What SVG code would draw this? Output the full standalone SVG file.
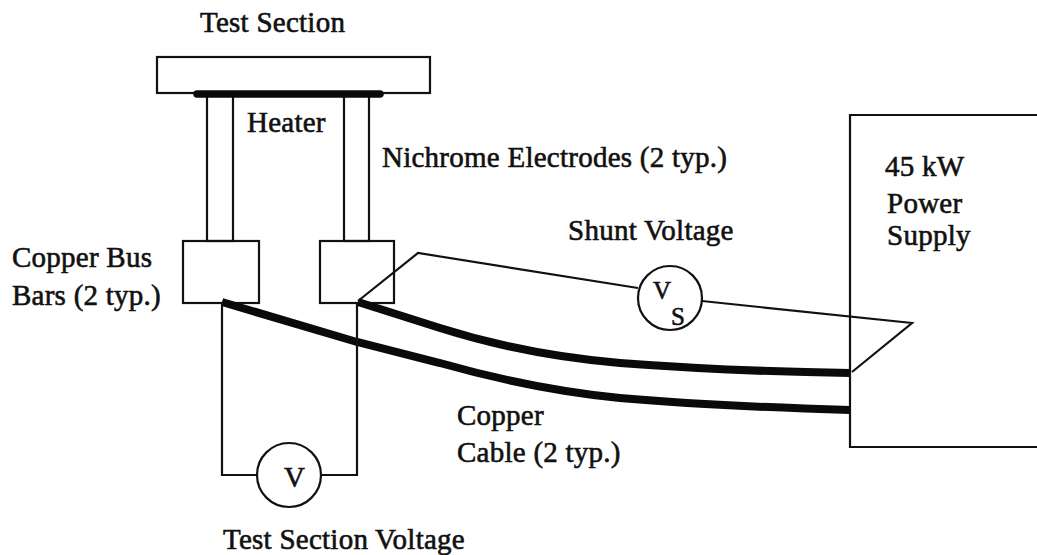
<svg xmlns="http://www.w3.org/2000/svg" width="1037" height="555" viewBox="0 0 1037 555">
<style>
text{font-family:"Liberation Serif",serif;font-size:29px;letter-spacing:.25px;fill:#111;stroke:#111;stroke-width:.6}
text.m{font-size:25px;letter-spacing:0}
.t{fill:none;stroke:#111;stroke-width:2.2}
.c{fill:none;stroke:#0a0a0a;stroke-width:8}
</style>
<rect width="1037" height="555" fill="#fff"/>
<g id="test-section"><rect class="t" x="157" y="57" width="273" height="36"/></g>
<g id="electrode-left"><rect class="t" x="207" y="94" width="26" height="147"/></g>
<g id="electrode-right"><rect class="t" x="344" y="94" width="25" height="147"/></g>
<g id="heater"><line x1="197" y1="94" x2="380" y2="94" stroke="#0a0a0a" stroke-width="7.5" stroke-linecap="round"/></g>
<g id="bus-left"><rect class="t" x="183" y="241" width="76" height="62"/></g>
<g id="bus-right"><rect class="t" x="320" y="241" width="74" height="62"/></g>
<g id="power-supply"><path class="t" d="M1037 115H850V447H1037"/></g>
<g id="connectors">
<path class="c" d="M222 302L357 342L440 363C500 380 560 392 620 398C700 405 780 408 850 410"/>
<path class="c" d="M358 302L440 328C500 347 560 358 620 363C700 369 780 372 850 373"/>
<path class="t" d="M358 301L418 253L638 288M702 301L912 323L852 372"/>
<path class="t" d="M222 302V475H257M321 475H357V302"/>
</g>
<g id="vs"><circle class="t" cx="670" cy="298" r="32"/><text class="m" x="653" y="299">V</text><text class="m" x="671" y="325">S</text></g>
<g id="v"><circle class="t" cx="289" cy="475" r="32"/><text x="284" y="487">V</text></g>
<g id="labels">
<text x="200" y="32">Test Section</text>
<text x="247" y="132">Heater</text>
<text x="382" y="167">Nichrome Electrodes (2 typ.)</text>
<text x="568" y="240">Shunt Voltage</text>
<text x="12" y="267">Copper Bus</text>
<text x="12" y="305">Bars (2 typ.)</text>
<text x="457" y="425">Copper</text>
<text x="457" y="462">Cable (2 typ.)</text>
<text x="223" y="549">Test Section Voltage</text>
<text x="885" y="176">45 kW</text>
<text x="887" y="213">Power</text>
<text x="887" y="245">Supply</text>
</g>
</svg>
